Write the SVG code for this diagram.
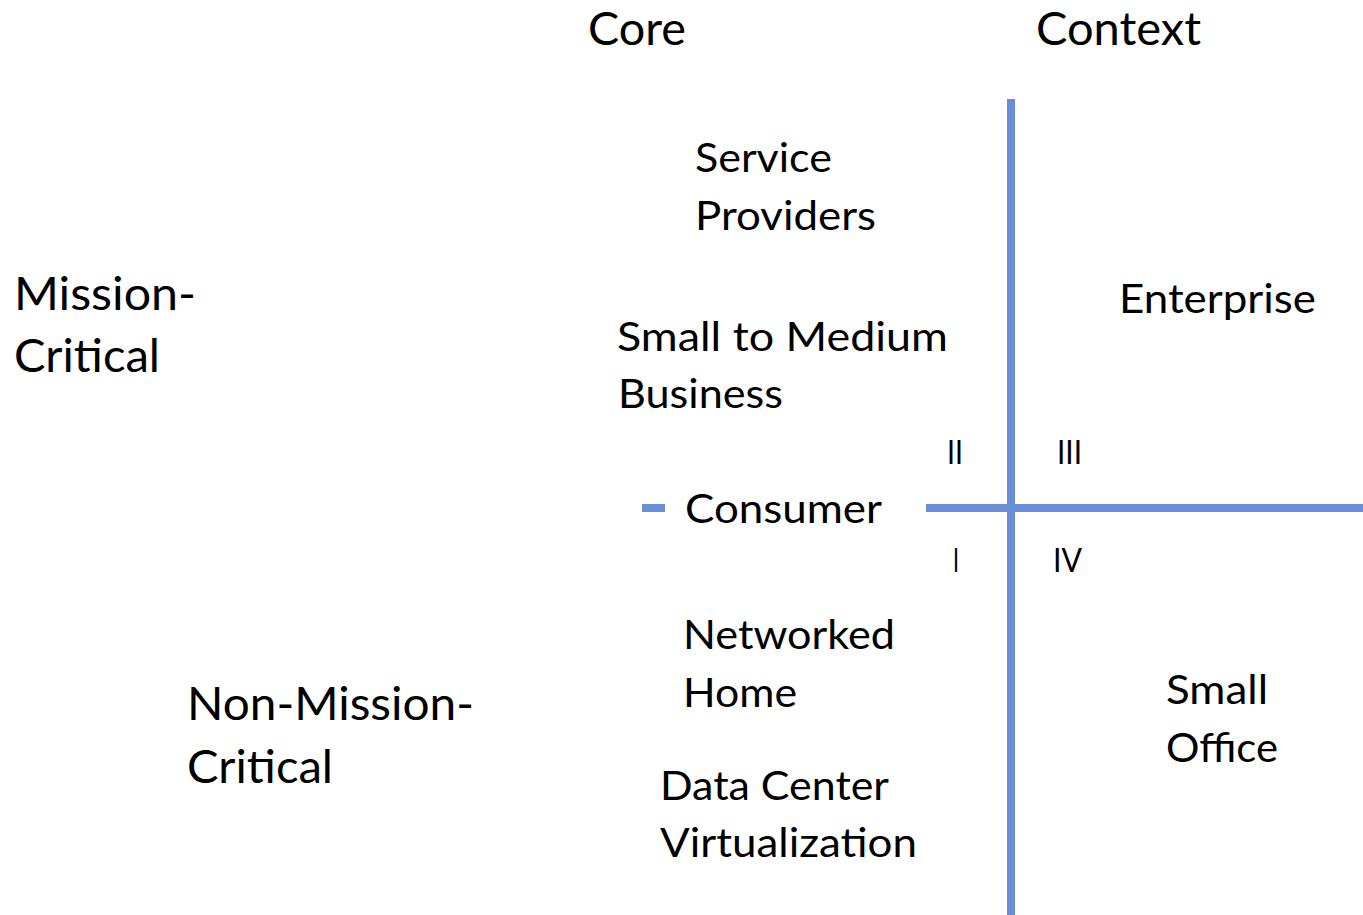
<svg xmlns="http://www.w3.org/2000/svg" width="1363" height="915" viewBox="0 0 1363 915">
  <style>
    text { font-family: "Lato", "Noto Sans", "Liberation Sans", sans-serif; fill: #000000; }
    .h { font-size: 47px; }
    .b { font-size: 40px; }
    .q { font-size: 32px; }
    .axis { fill: #6A8FDA; }
  </style>
  <rect width="1363" height="915" fill="#ffffff"/>
  <g id="connectors">
    <rect class="axis" x="1007" y="99" width="8" height="816"/>
    <rect class="axis" x="926" y="504" width="437" height="8"/>
    <rect class="axis" x="642" y="504" width="23" height="8"/>
  </g>
  <g id="header-core"><text class="h" x="588" y="45" textLength="98" lengthAdjust="spacingAndGlyphs">Core</text></g>
  <g id="header-context"><text class="h" x="1036" y="45" textLength="165" lengthAdjust="spacingAndGlyphs">Context</text></g>
  <g id="mission-critical">
    <text class="h" x="14" y="310" textLength="182" lengthAdjust="spacingAndGlyphs">Mission-</text>
    <text class="h" x="14" y="372" textLength="146" lengthAdjust="spacingAndGlyphs">Critical</text>
  </g>
  <g id="non-mission-critical">
    <text class="h" x="187" y="720" textLength="287" lengthAdjust="spacingAndGlyphs">Non-Mission-</text>
    <text class="h" x="187" y="783" textLength="146" lengthAdjust="spacingAndGlyphs">Critical</text>
  </g>
  <g id="service-providers">
    <text class="b" x="695" y="172" textLength="137" lengthAdjust="spacingAndGlyphs">Service</text>
    <text class="b" x="695" y="230" textLength="181" lengthAdjust="spacingAndGlyphs">Providers</text>
  </g>
  <g id="smb">
    <text class="b" x="617" y="351" textLength="331" lengthAdjust="spacingAndGlyphs">Small to Medium</text>
    <text class="b" x="618" y="408" textLength="165" lengthAdjust="spacingAndGlyphs">Business</text>
  </g>
  <g id="enterprise"><text class="b" x="1119" y="313" textLength="197" lengthAdjust="spacingAndGlyphs">Enterprise</text></g>
  <g id="consumer"><text class="b" x="685" y="523" textLength="197" lengthAdjust="spacingAndGlyphs">Consumer</text></g>
  <g id="quadrant-2"><text class="q" x="947" y="464" textLength="16" lengthAdjust="spacingAndGlyphs">II</text></g>
  <g id="quadrant-3"><text class="q" x="1057" y="464" textLength="25" lengthAdjust="spacingAndGlyphs">III</text></g>
  <g id="quadrant-1"><text class="q" x="953" y="572" textLength="6" lengthAdjust="spacingAndGlyphs">I</text></g>
  <g id="quadrant-4"><text class="q" x="1053" y="572" textLength="29" lengthAdjust="spacingAndGlyphs">IV</text></g>
  <g id="networked-home">
    <text class="b" x="683" y="649" textLength="212" lengthAdjust="spacingAndGlyphs">Networked</text>
    <text class="b" x="683" y="707" textLength="114" lengthAdjust="spacingAndGlyphs">Home</text>
  </g>
  <g id="small-office">
    <text class="b" x="1166" y="704" textLength="102" lengthAdjust="spacingAndGlyphs">Small</text>
    <text class="b" x="1166" y="762" textLength="112" lengthAdjust="spacingAndGlyphs">Office</text>
  </g>
  <g id="data-center-virtualization">
    <text class="b" x="660" y="800" textLength="229" lengthAdjust="spacingAndGlyphs">Data Center</text>
    <text class="b" x="660" y="857" textLength="257" lengthAdjust="spacingAndGlyphs">Virtualization</text>
  </g>
</svg>
